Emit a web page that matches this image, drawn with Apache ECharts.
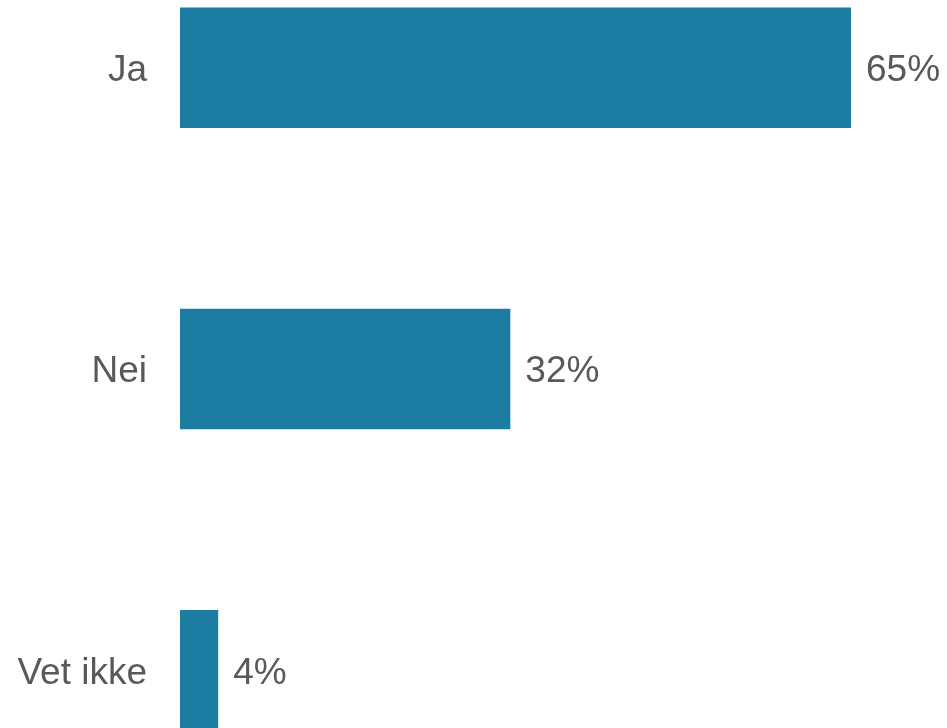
<!DOCTYPE html>
<html>
<head>
<meta charset="utf-8">
<script src="https://cdn.jsdelivr.net/npm/echarts@6/dist/echarts.min.js"></script>
<style>html,body{margin:0;padding:0;background:#fff;overflow:hidden;width:947px;height:728px}#c{position:absolute;left:0;top:-83px;width:947px;height:904px}</style>
</head>
<body>
<div id="c"></div>
<script>
const categories = ["Ja", "Nei", "Vet ikke"];
const values = [65, 32, 3.7];

const chart = echarts.init(document.getElementById('c'), null, {renderer: 'canvas'});
chart.setOption({
  animation: false,
  backgroundColor: '#ffffff',
  grid: {left: 180, top: 0, width: 671, height: 904, containLabel: false},
  xAxis: {
    type: 'value', min: 0, max: 65, show: false
  },
  yAxis: {
    type: 'category', data: categories, inverse: true,
    axisLine: {show: false}, axisTick: {show: false}, splitLine: {show: false},
    axisLabel: {
      margin: 33,
      formatter: v => '{a|' + v + '}',
      rich: {a: {color: '#595959', fontSize: 37, fontFamily: 'Liberation Sans, Arial, sans-serif', padding: [6, 0, 0, 0]}}
    }
  },
  series: [{
    type: 'bar', data: values, barCategoryGap: '60%',
    itemStyle: {color: '#1c7ca2'},
    label: {
      show: true, position: 'right', distance: 15, offset: [0, 3],
      color: '#595959', fontSize: 37, fontFamily: 'Liberation Sans, Arial, sans-serif',
      formatter: p => Math.round(p.value) + '%'
    }
  }]
});
</script>
</body>
</html>
